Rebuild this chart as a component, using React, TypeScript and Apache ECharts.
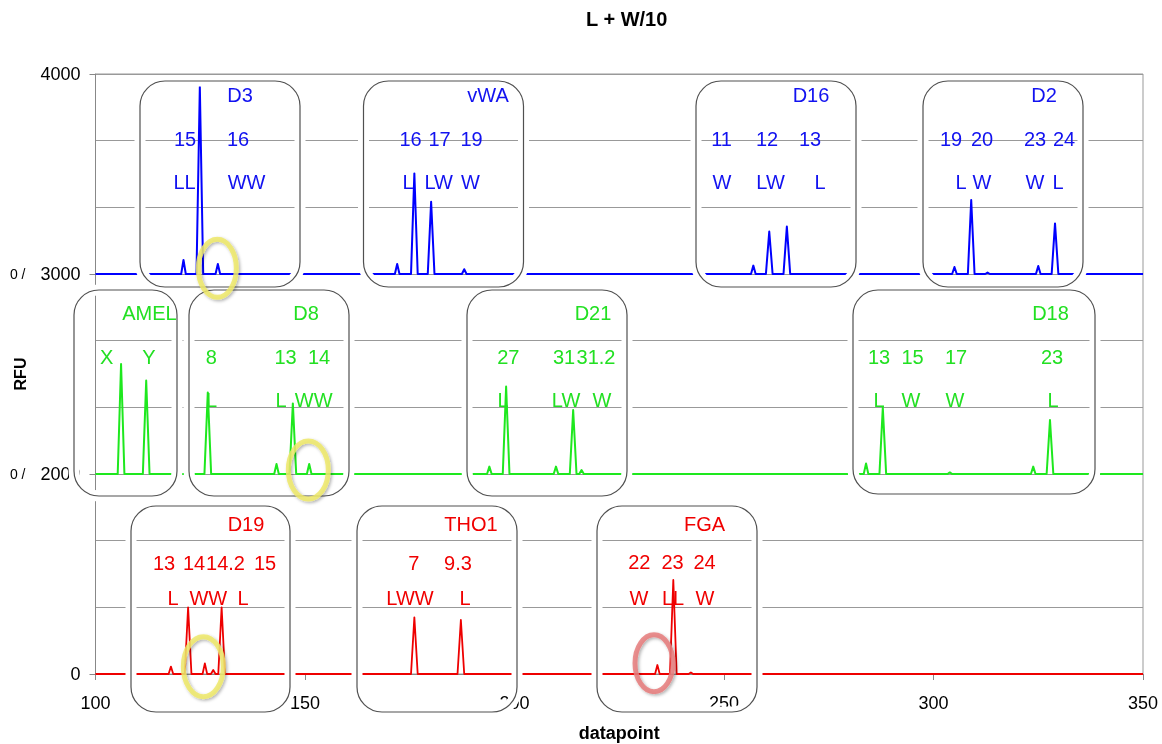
import React, { useEffect, useRef } from "react";
import * as echarts from "echarts";

// ---- data (datapoint position, peak height in RFU above each dye's baseline) ----
const bluePeakX = [121.0, 124.9, 129.2, 172.0, 176.1, 180.1, 188.0, 257.0, 260.8, 265.0, 305.0, 309.0, 312.9, 325.0, 329.0];
const bluePeakH = [70, 937, 50, 50, 503, 361, 24, 42, 212, 237, 35, 370, 7, 40, 253];

const greenPeakX = [106.1, 112.1, 126.8, 143.2, 147.1, 151.0, 194.0, 198.0, 209.9, 214.0, 216.0, 283.9, 287.9, 303.9, 323.8, 327.8];
const greenPeakH = [550, 467, 408, 50, 353, 50, 37, 437, 37, 320, 20, 53, 332, 8, 37, 270];

const redPeakX = [118.0, 122.1, 126.1, 128.1, 130.1, 176.1, 187.2, 234.1, 237.9, 242.1];
const redPeakH = [37, 333, 53, 20, 333, 283, 270, 45, 470, 8];

const xRange = [100, 350];
const yTickLabels = ["0", "2000", "3000", "4000"];
const yTickPrefix = ["", "0 /", "0 /", ""];

// ---- annotation layout (pixels) ----
const BLUE = "#1212f0";
const GREEN = "#22e022";
const RED = "#f00000";

const boxes: [number, number, number, number][] = [
  [140, 81, 160, 206], [363.5, 81, 160, 206], [696, 81, 160, 206], [923, 81, 160, 206],
  [74, 290, 103, 206], [189, 290, 160, 206], [467, 290, 160, 206], [853, 290, 242, 204],
  [131, 506, 159, 206], [357, 506, 160, 206], [597, 506, 160, 206],
];

type Ann = [string, number, number];
const blueTexts: Ann[] = [
  ["D3", 240, 95], ["15", 185, 138.5], ["16", 238, 138.5], ["LL", 184.5, 182], ["WW", 246.5, 182],
  ["vWA", 488, 95], ["16", 410.5, 138.5], ["17", 439.5, 138.5], ["19", 471.5, 138.5], ["L", 408, 182], ["LW", 438.7, 182], ["W", 470.5, 182],
  ["D16", 811, 95], ["11", 721.5, 139], ["12", 767, 139], ["13", 810, 139], ["W", 722, 182], ["LW", 770.5, 182], ["L", 820, 182],
  ["D2", 1044, 95], ["19", 951, 139], ["20", 982, 139], ["23", 1035, 139], ["24", 1064, 139], ["L", 961, 182], ["W", 982, 182], ["W", 1035, 182], ["L", 1058, 182],
];
const greenTexts: Ann[] = [
  ["AMEL", 149.5, 313], ["X", 106.7, 357], ["Y", 149, 357],
  ["D8", 306, 313], ["8", 211.3, 357], ["13", 285.5, 357], ["14", 319, 357], ["L", 211.5, 400], ["L", 281, 400], ["WW", 313.7, 400],
  ["D21", 593, 313], ["27", 508.3, 357], ["31", 564, 357], ["31.2", 596, 357], ["L", 503, 400], ["LW", 566, 400], ["W", 602, 400],
  ["D18", 1050.5, 312.5], ["13", 879, 357], ["15", 912.5, 357], ["17", 956, 357], ["23", 1052, 357], ["L", 879, 400], ["W", 911, 400], ["W", 955, 400], ["L", 1053, 400],
];
const redTexts: Ann[] = [
  ["D19", 246, 523.5], ["13", 164, 562.5], ["14", 194, 562.5], ["14.2", 225.5, 562.5], ["15", 265, 562.5], ["L", 173, 598], ["WW", 208.3, 598], ["L", 243, 598],
  ["THO1", 471, 524], ["7", 413.7, 562.5], ["9.3", 458, 562.5], ["LWW", 410, 598], ["L", 465, 598],
  ["FGA", 704.5, 524], ["22", 639.3, 562], ["23", 672.5, 562], ["24", 704.5, 562], ["W", 639, 598], ["LL", 673, 598], ["W", 705, 598],
];

const rings: [number, number, number, number, string][] = [
  [217.3, 268.3, 19, 29, "#efe96a"],
  [308.3, 470, 20, 29, "#efe96a"],
  [203.3, 666.7, 20, 30, "#efe96a"],
  [654, 663.3, 19, 28.5, "#e67c7c"],
];

function trace(px: number[], ph: number[], base: number) {
  const pts: [number, number][] = [[xRange[0], base]];
  px.forEach((x, i) => {
    const hw = ph[i] > 150 ? 0.8 : 0.55;
    pts.push([x - hw, base], [x, base + ph[i]], [x + hw, base]);
  });
  pts.push([xRange[1], base]);
  return pts;
}

export default function App() {
  const ref = useRef<HTMLDivElement>(null);
  useEffect(() => {
    if (!ref.current) return;
    const chart = echarts.init(ref.current, null, { renderer: "svg" });
    const font = "Liberation Sans, Arial, sans-serif";

    const graphic: any[] = [];
    boxes.forEach(([x, y, w, h]) => {
      graphic.push({
        type: "rect", z: 100, silent: true,
        shape: { x, y, width: w, height: h, r: 25 },
        style: { fill: "none", stroke: "#ffffff", lineWidth: 11 },
      });
      graphic.push({
        type: "rect", z: 101, silent: true,
        shape: { x, y, width: w, height: h, r: 25 },
        style: { fill: "none", stroke: "#505050", lineWidth: 1.2 },
      });
    });
    rings.forEach(([cx, cy, rx, ry, c]) => {
      graphic.push({
        type: "ellipse", z: 110, silent: true,
        shape: { cx, cy, rx, ry },
        style: {
          fill: "none", stroke: c, lineWidth: 5, opacity: 0.85,
          shadowBlur: 3, shadowColor: "rgba(0,0,0,0.35)", shadowOffsetX: 1.5, shadowOffsetY: 1.5,
        },
      });
    });
    const addTexts = (list: Ann[], color: string) =>
      list.forEach(([t, x, y]) =>
        graphic.push({
          type: "text", z: 120, silent: true, x, y,
          style: {
            text: t, fill: color, font: `20px ${font}`,
            textAlign: "center", textVerticalAlign: "middle", align: "center", verticalAlign: "middle",
          },
        })
      );
    addTexts(blueTexts, BLUE);
    addTexts(greenTexts, GREEN);
    addTexts(redTexts, RED);

    chart.setOption({
      animation: false,
      title: {
        text: "L + W/10", left: 581, top: 4,
        textStyle: { fontSize: 20, fontWeight: "bold", fontFamily: font, color: "#000" },
      },
      grid: {
        left: 95.5, right: 19, top: 74, bottom: 70, show: true, borderColor: "#999", borderWidth: 1,
        containLabel: false, outerBoundsMode: "none",
      },
      xAxis: {
        type: "value", min: xRange[0], max: xRange[1], interval: 50,
        name: "datapoint", nameLocation: "middle", nameGap: 50, nameMoveOverlap: false,
        nameTextStyle: { fontWeight: "bold", fontSize: 18, color: "#000", fontFamily: font },
        axisLine: { show: true, lineStyle: { color: "#888" } },
        axisTick: { show: true, length: 6, lineStyle: { color: "#888" } },
        axisLabel: { fontSize: 18, color: "#000", margin: 20, fontFamily: font },
        splitLine: { show: false },
      },
      yAxis: {
        type: "value", min: 0, max: 3000, interval: 1000,
        name: "RFU", nameLocation: "middle", nameGap: 67, nameMoveOverlap: false,
        nameTextStyle: { fontWeight: "bold", fontSize: 16, color: "#000", fontFamily: font },
        axisLine: { show: true, lineStyle: { color: "#888" } },
        axisTick: { show: true, length: 6, lineStyle: { color: "#888" } },
        splitLine: { show: true, lineStyle: { color: "#999" } },
        minorTick: { show: false, splitNumber: 3 },
        minorSplitLine: { show: true, lineStyle: { color: "#999" } },
        axisLabel: {
          margin: 15, fontFamily: font, color: "#000",
          formatter: (v: number) => {
            const k = Math.round(v / 1000);
            const p = yTickPrefix[k];
            return p ? `{p|${p}}{v|${yTickLabels[k]}}` : `{v|${yTickLabels[k]}}`;
          },
          rich: {
            p: { fontSize: 14, color: "#000", padding: [0, 15, 0, 0], fontFamily: font },
            v: { fontSize: 18, color: "#000", fontFamily: font },
          },
        },
      },
      series: [
        {
          type: "line", name: "blue", symbol: "none", z: 3,
          data: trace(bluePeakX, bluePeakH, 2000),
          lineStyle: { color: "#0000ff", width: 2, join: "round" },
        },
        {
          type: "line", name: "green", symbol: "none", z: 3,
          data: trace(greenPeakX, greenPeakH, 1000),
          lineStyle: { color: "#1ee81e", width: 2, join: "round" },
        },
        {
          type: "line", name: "red", symbol: "none", z: 3,
          data: trace(redPeakX, redPeakH, 0),
          lineStyle: { color: "#ee0000", width: 1.8, join: "round" },
        },
      ],
      graphic,
    });
    return () => chart.dispose();
  }, []);
  return <div ref={ref} style={{ position: "fixed", left: 0, top: 0, width: 1162, height: 744 }} />;
}
